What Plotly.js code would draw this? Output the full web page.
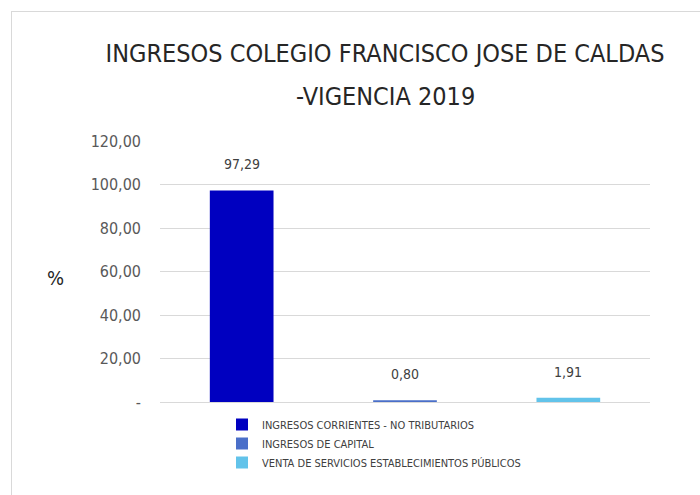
<!DOCTYPE html>
<html>
<head>
<meta charset="utf-8">
<script src="https://cdn.plot.ly/plotly-3.0.1.min.js"></script>
<style>
html,body{margin:0;padding:0;background:#fff;}
#wrap{position:relative;width:700px;height:495px;overflow:hidden;}
#frame{position:absolute;left:11px;top:11px;width:700px;height:500px;border-left:1px solid #d9d9d9;border-top:1px solid #d9d9d9;pointer-events:none;}
#chart{position:absolute;left:0;top:0;width:700px;height:495px;}
</style>
</head>
<body>
<div id="wrap"><div id="chart"></div><div id="frame"></div></div>
<script>
const categories = ["INGRESOS CORRIENTES - NO TRIBUTARIOS", "INGRESOS DE CAPITAL", "VENTA DE SERVICIOS ESTABLECIMIENTOS PÚBLICOS"];
const values = [97.29, 0.80, 1.91];
const valueLabels = ["97,29", "0,80", "1,91"];
const colors = ["#0000C0", "#4A6FC9", "#62C3EA"];
const tickVals = [0, 20, 40, 60, 80, 100, 120];
const tickText = ["-", "20,00", "40,00", "60,00", "80,00", "100,00", "120,00"];
const titleLine1 = "INGRESOS COLEGIO FRANCISCO JOSE DE CALDAS";
const titleLine2 = "-VIGENCIA 2019";

const font = "DejaVu Sans Condensed, Liberation Sans Narrow, sans-serif";
const traces = categories.map((c, i) => ({
  type: "bar",
  name: c,
  x: [c],
  y: [values[i]],
  marker: {color: colors[i]},
  hoverinfo: "none"
}));

const labelAnns = categories.map((c, i) => ({
  x: c, y: values[i], xref: "x", yref: "y",
  text: valueLabels[i], showarrow: false,
  yshift: 26, xanchor: "center", yanchor: "middle",
  font: {family: font, size: 14, color: "#404040"}
}));

const layout = {
  width: 700, height: 495,
  margin: {l: 160, r: 50, t: 141, b: 93, autoexpand: false},
  paper_bgcolor: "#fff", plot_bgcolor: "#fff",
  barmode: "overlay",
  bargap: 0.61,
  showlegend: true,
  title: {
    text: titleLine1,
    font: {family: font, size: 25, color: "#262626"},
    x: 385/700, xref: "container", xanchor: "center",
    y: 1 - 53/495, yref: "container", yanchor: "middle"
  },
  xaxis: {showticklabels: false, showgrid: false, zeroline: false, showline: false, ticks: ""},
  yaxis: {
    range: [0, 120], tickvals: tickVals, ticktext: tickText,
    showgrid: true, gridcolor: "#D9D9D9", gridwidth: 1,
    zeroline: true, zerolinecolor: "#D9D9D9", zerolinewidth: 1,
    showline: false, ticks: "", ticklen: 0, ticklabelstandoff: 18,
    tickfont: {family: font, size: 16, color: "#595959"}
  },
  legend: {
    x: (222-160)/490, xref: "paper", xanchor: "left",
    y: -8/261, yref: "paper", yanchor: "top",
    font: {family: font, size: 11, color: "#404040"},
    tracegroupgap: 0, bgcolor: "rgba(0,0,0,0)"
  },
  annotations: labelAnns.concat([
    {
      text: titleLine2, xref: "paper", yref: "paper",
      x: (385-160)/490, y: (402-96)/261,
      showarrow: false, font: {family: font, size: 25, color: "#262626"},
      xanchor: "center", yanchor: "middle"
    },
    {
      text: "%", xref: "paper", yref: "paper", x: -(160-55)/490, y: (402-278)/261,
      showarrow: false, font: {family: font, size: 20, color: "#262626"},
      xanchor: "center", yanchor: "middle"
    }
  ])
};
Plotly.newPlot("chart", traces, layout, {displayModeBar: false, staticPlot: true});
</script>
</body>
</html>
